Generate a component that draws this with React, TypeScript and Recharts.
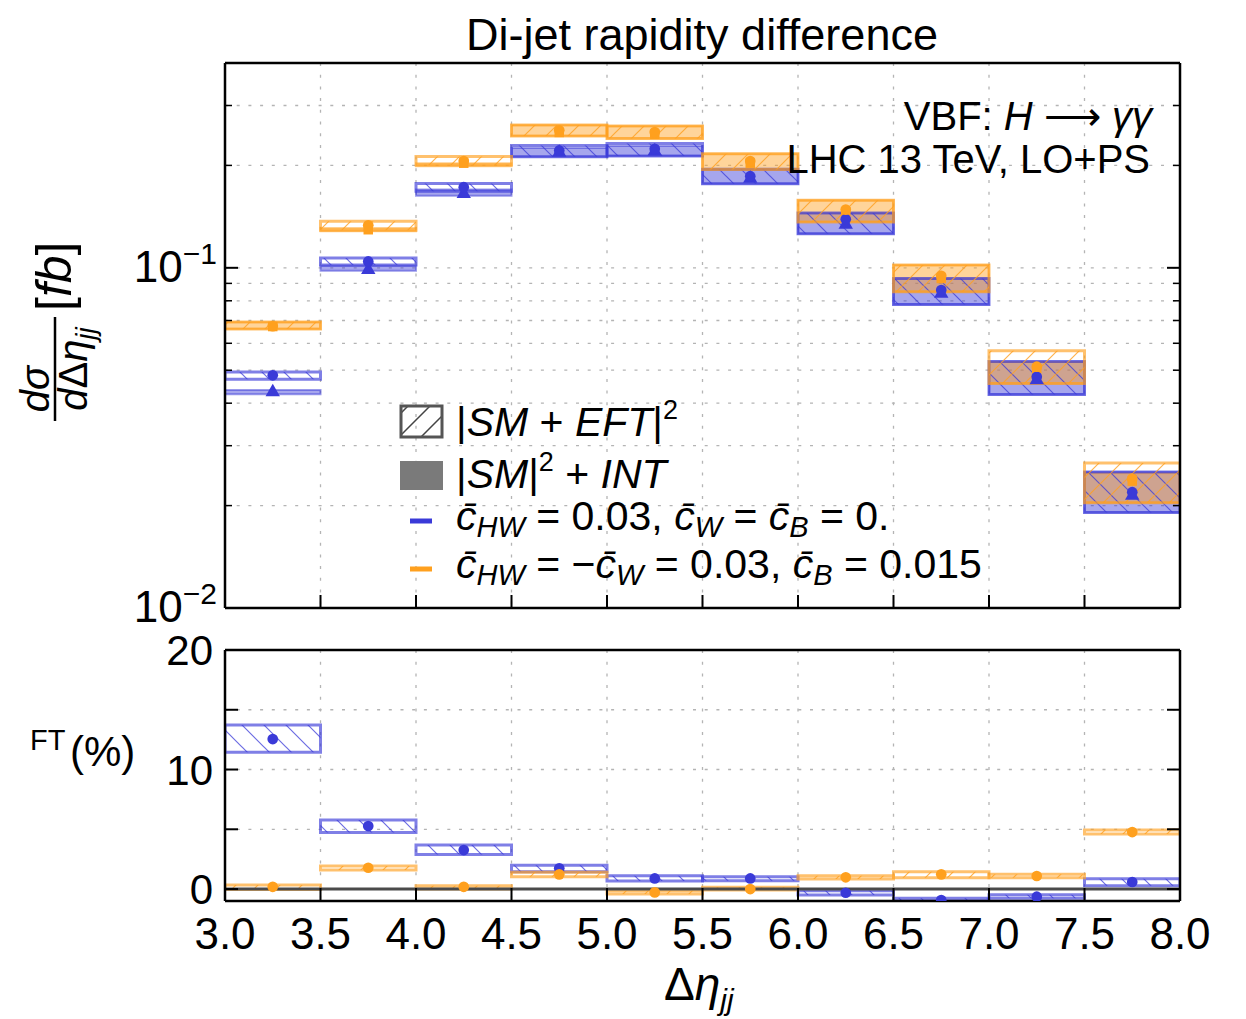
import React from 'react';
import {
  ComposedChart,
  XAxis,
  YAxis,
  ZAxis,
  CartesianGrid,
  ReferenceArea,
  ReferenceLine,
  Scatter,
} from 'recharts';

// ---------------- data ----------------
const binLo = [3.0, 3.5, 4.0, 4.5, 5.0, 5.5, 6.0, 6.5, 7.0, 7.5];
const binHi = [3.5, 4.0, 4.5, 5.0, 5.5, 6.0, 6.5, 7.0, 7.5, 8.0];
const binCenter = [3.25, 3.75, 4.25, 4.75, 5.25, 5.75, 6.25, 6.75, 7.25, 7.75];
const xTicks = [3.0, 3.5, 4.0, 4.5, 5.0, 5.5, 6.0, 6.5, 7.0, 7.5, 8.0];
const yLogMajor = [0.01, 0.1];
const yLogAll = [0.01, 0.02, 0.03, 0.04, 0.05, 0.06, 0.07, 0.08, 0.09, 0.1, 0.2, 0.3, 0.4];
const ftTicks = [0, 5, 10, 15, 20];
const ftLabels = [0, 10, 20];

// |SM + EFT|^2 (hatched) bands, blue: cHW = 0.03
const blueFullLo = [0.047, 0.102, 0.168, 0.212, 0.213, 0.1765, 0.126, 0.078, 0.0424, 0.0191];
const blueFullHi = [0.0494, 0.1068, 0.177, 0.229, 0.232, 0.195, 0.145, 0.093, 0.053, 0.0251];
const blueFullC = [0.0483, 0.1044, 0.1726, 0.2213, 0.2238, 0.1859, 0.139, 0.086, 0.0478, 0.0219];
// |SM|^2 + INT (solid) bands, blue
const blueIntLo = [0.0425, 0.098, 0.163, 0.212, 0.213, 0.1765, 0.126, 0.078, 0.0424, 0.0191];
const blueIntHi = [0.0437, 0.1014, 0.17, 0.225, 0.228, 0.195, 0.145, 0.093, 0.053, 0.0251];
const blueIntC = [0.0431, 0.0987, 0.165, 0.218, 0.22, 0.183, 0.134, 0.084, 0.0468, 0.0214];

// orange: cHW = -cW = 0.03, cB = 0.015
const orangeFullLo = [0.0661, 0.129, 0.2004, 0.244, 0.24, 0.1946, 0.1364, 0.085, 0.0457, 0.0204];
const orangeFullHi = [0.0693, 0.137, 0.2124, 0.263, 0.261, 0.2165, 0.158, 0.102, 0.057, 0.0267];
const orangeFullC = [0.0674, 0.1333, 0.2059, 0.2536, 0.2506, 0.2059, 0.1483, 0.0947, 0.0512, 0.024];
const orangeIntLo = [0.0661, 0.128, 0.199, 0.244, 0.24, 0.1946, 0.1364, 0.085, 0.0457, 0.0204];
const orangeIntHi = [0.0693, 0.131, 0.203, 0.263, 0.261, 0.2165, 0.158, 0.102, 0.0529, 0.0249];
const orangeIntC = [0.0672, 0.1294, 0.203, 0.25, 0.247, 0.203, 0.146, 0.093, 0.0505, 0.0236];

// FT (%) lower panel
const blueFtLo = [11.44, 4.74, 2.9, 1.45, 0.67, 0.69, -0.5, -0.98, -0.78, 0.28];
const blueFtHi = [13.72, 5.77, 3.68, 2.0, 1.11, 1.03, -0.14, -0.78, -0.48, 0.86];
const blueFtC = [12.55, 5.27, 3.26, 1.73, 0.89, 0.89, -0.31, -0.92, -0.64, 0.59];
const orangeFtLo = [-0.03, 1.59, 0.0, 1.03, -0.42, -0.08, 0.84, 0.95, 0.95, 4.6];
const orangeFtHi = [0.33, 1.92, 0.28, 1.4, -0.14, 0.14, 1.11, 1.45, 1.23, 4.94];
const orangeFtC = [0.19, 1.78, 0.19, 1.23, -0.28, 0.0, 0.98, 1.23, 1.09, 4.77];

// ---------------- styles ----------------
const BLUE = '#3a3ad8';
const ORANGE = '#ffa01e';
const FONT = '"Liberation Sans", Arial, Helvetica, sans-serif';
const GRID = '#b4b4b4';

const pts = (xs: number[], ys: number[]) => xs.map((x, i) => ({ x, y: ys[i] }));

type Side = 'left' | 'right' | 'top' | 'bottom';

const powLabel = (v: number, x: number, y: number) => (
  <text x={x - 8} y={y + 14} textAnchor="end" fontFamily={FONT} fontSize={44} fill="#000">
    <tspan>10</tspan>
    <tspan fontSize={30} dy={-18}>{'\u2212' + Math.abs(Math.round(Math.log10(v)))}</tspan>
  </text>
);

const numLabelY = (v: number, x: number, y: number) => (
  <text x={x - 12} y={y + 15} textAnchor="end" fontFamily={FONT} fontSize={42} fill="#000">
    {String(v)}
  </text>
);

const numLabelX = (v: number, x: number, y: number) => (
  <text x={x} y={y + 48} textAnchor="middle" fontFamily={FONT} fontSize={44} fill="#000">
    {Number(v).toFixed(1)}
  </text>
);

const makeTick =
  (side: Side, majors: number[] | null, labels: number[] | null, labelFn: any) =>
  (props: any) => {
    const { x, y, payload } = props;
    const v = payload.value;
    const isMajor = !majors || majors.some((m) => Math.abs(m - v) < 1e-9);
    const len = isMajor ? 13 : 7;
    const sw = isMajor ? 2 : 1.5;
    let line = null;
    if (side === 'left') line = <line x1={x} x2={x + len} y1={y} y2={y} stroke="#000" strokeWidth={sw} />;
    if (side === 'right') line = <line x1={x} x2={x - len} y1={y} y2={y} stroke="#000" strokeWidth={sw} />;
    if (side === 'top') line = <line x1={x} x2={x} y1={y} y2={y + len} stroke="#000" strokeWidth={sw} />;
    if (side === 'bottom') line = <line x1={x} x2={x} y1={y} y2={y - len} stroke="#000" strokeWidth={sw} />;
    const showLabel = labels && labelFn && labels.some((m) => Math.abs(m - v) < 1e-9);
    return (
      <g>
        {line}
        {showLabel ? labelFn(v, x, y) : null}
      </g>
    );
  };

const bandAreas = (
  prefix: string,
  lo: number[],
  hi: number[],
  color: string,
  hatchId: string | null
) =>
  binLo.map((x1, i) => (
    <ReferenceArea
      key={prefix + i}
      xAxisId="x"
      yAxisId="y"
      x1={x1}
      x2={binHi[i]}
      y1={lo[i]}
      y2={hi[i]}
      fill={hatchId ? `url(#${hatchId})` : color}
      fillOpacity={hatchId ? 1 : 0.45}
      stroke={color}
      strokeOpacity={hatchId ? 0.65 : 0.5}
      strokeWidth={hatchId ? 3 : 2}
      ifOverflow="hidden"
    />
  ));

const AXLINE = { stroke: '#000', strokeWidth: 2.5 };

const frameAxes = (
  yDomain: [number, number],
  logScale: boolean,
  yAll: number[],
  yMajor: number[],
  yLabels: number[],
  yLabelFn: any,
  xLabels: boolean
) => {
  const yCommon: any = {
    type: 'number',
    domain: yDomain,
    allowDataOverflow: true,
    width: 1,
    interval: 0,
    ticks: yAll,
    tickSize: 0,
    tickMargin: 0,
    tickLine: false,
    axisLine: AXLINE,
  };
  if (logScale) yCommon.scale = 'log';
  const xCommon: any = {
    type: 'number',
    domain: [3, 8],
    allowDataOverflow: true,
    height: 1,
    ticks: xTicks,
    interval: 0,
    tickSize: 0,
    tickMargin: 0,
    tickLine: false,
    axisLine: AXLINE,
  };
  return [
    <XAxis key="xb" xAxisId="x" dataKey="x" orientation="bottom" tick={makeTick('bottom', null, xLabels ? xTicks : null, numLabelX)} {...xCommon} />,
    <XAxis key="xt" xAxisId="xt" orientation="top" tick={makeTick('top', null, null, null)} {...xCommon} />,
    <YAxis key="yl" yAxisId="y" dataKey="y" orientation="left" tick={makeTick('left', yMajor, yLabels, yLabelFn)} {...yCommon} />,
    <YAxis key="yr" yAxisId="yr" orientation="right" tick={makeTick('right', yMajor, null, null)} {...yCommon} />,
    <ZAxis key="z" type="number" range={[90, 90]} />,
  ];
};

const Patterns = () => (
  <svg width={0} height={0} style={{ position: 'absolute' }}>
    <defs>
      <pattern id="hatchBlue" patternUnits="userSpaceOnUse" width={22} height={22}>
        <path d="M-1,-1 L23,23 M21,-1 L23,1 M-1,21 L1,23" stroke={BLUE} strokeOpacity={0.75} strokeWidth={1.2} />
      </pattern>
      <pattern id="hatchOrange" patternUnits="userSpaceOnUse" width={22} height={22}>
        <path d="M-1,23 L23,-1 M-1,1 L1,-1 M21,23 L23,21" stroke={ORANGE} strokeOpacity={0.8} strokeWidth={1.2} />
      </pattern>
      <pattern id="hatchGray" patternUnits="userSpaceOnUse" width={22} height={22}>
        <path d="M-1,23 L23,-1 M-1,1 L1,-1 M21,23 L23,21" stroke="#444" strokeWidth={1.5} />
      </pattern>
    </defs>
  </svg>
);

const TopChart = () => (
  <ComposedChart width={1246} height={640} margin={{ top: 62, left: 224, right: 65, bottom: 31 }}>
    <CartesianGrid
      xAxisId="x"
      yAxisId="y"
      horizontalValues={yLogAll}
      verticalValues={xTicks}
      stroke={GRID}
      strokeDasharray="3 8.7"
      strokeWidth={1.3}
    />
    {frameAxes([0.01, 0.4], true, yLogAll, yLogMajor, yLogMajor, powLabel, false)}
    {bandAreas('bi', blueIntLo, blueIntHi, BLUE, null)}
    {bandAreas('oi', orangeIntLo, orangeIntHi, ORANGE, null)}
    {bandAreas('bf', blueFullLo, blueFullHi, BLUE, 'hatchBlue')}
    {bandAreas('of', orangeFullLo, orangeFullHi, ORANGE, 'hatchOrange')}
    <Scatter xAxisId="x" yAxisId="y" data={pts(binCenter, blueIntC)} dataKey="y" shape="triangle" fill={BLUE} isAnimationActive={false} />
    <Scatter xAxisId="x" yAxisId="y" data={pts(binCenter, orangeIntC)} dataKey="y" shape="square" fill={ORANGE} isAnimationActive={false} />
    <Scatter xAxisId="x" yAxisId="y" data={pts(binCenter, blueFullC)} dataKey="y" shape="circle" fill={BLUE} isAnimationActive={false} />
    <Scatter xAxisId="x" yAxisId="y" data={pts(binCenter, orangeFullC)} dataKey="y" shape="circle" fill={ORANGE} isAnimationActive={false} />
  </ComposedChart>
);

const BottomChart = () => (
  <ComposedChart width={1246} height={404} margin={{ top: 34, left: 224, right: 65, bottom: 117 }}>
    <CartesianGrid
      xAxisId="x"
      yAxisId="y"
      horizontalValues={ftTicks}
      verticalValues={xTicks}
      stroke={GRID}
      strokeDasharray="3 8.7"
      strokeWidth={1.3}
    />
    {frameAxes([-1, 20], false, ftTicks, ftTicks, ftLabels, numLabelY, true)}
    <ReferenceLine xAxisId="x" yAxisId="y" y={0} stroke="#4a4a4a" strokeWidth={3} />
    {bandAreas('bft', blueFtLo, blueFtHi, BLUE, 'hatchBlue')}
    {bandAreas('oft', orangeFtLo, orangeFtHi, ORANGE, 'hatchOrange')}
    <Scatter xAxisId="x" yAxisId="y" data={pts(binCenter, blueFtC)} dataKey="y" shape="circle" fill={BLUE} isAnimationActive={false} />
    <Scatter xAxisId="x" yAxisId="y" data={pts(binCenter, orangeFtC)} dataKey="y" shape="circle" fill={ORANGE} isAnimationActive={false} />
  </ComposedChart>
);

const cbar = (s: string) => s + '\u0304';

const Texts = () => (
  <svg
    width={1246}
    height={1019}
    style={{ position: 'absolute', left: 0, top: 0, pointerEvents: 'none' }}
    fontFamily={FONT}
  >
    <text x={702} y={50} fontSize={45} textAnchor="middle">Di-jet rapidity difference</text>
    <text x={1152} y={130} fontSize={40} textAnchor="end">
      VBF: <tspan fontStyle="italic">H</tspan> {'\u27f6'} <tspan fontStyle="italic">{'\u03b3\u03b3'}</tspan>
    </text>
    <text x={1150} y={173} fontSize={40} textAnchor="end">LHC 13 TeV, LO+PS</text>

    {/* y label top */}
    <g transform="translate(55,369) rotate(-90)">
      <line x1={-52} x2={52} y1={0} y2={0} stroke="#000" strokeWidth={2.5} />
      <text x={-20} y={-6} fontSize={40} textAnchor="middle">
        <tspan fontStyle="italic">d</tspan>
        <tspan fontStyle="italic">{'\u03c3'}</tspan>
      </text>
      <text x={0} y={32} fontSize={40} textAnchor="middle">
        <tspan fontStyle="italic">d</tspan>
        <tspan>{'\u0394'}</tspan>
        <tspan fontStyle="italic">{'\u03b7'}</tspan>
        <tspan fontStyle="italic" fontSize={28} dy={8}>jj</tspan>
      </text>
      <text x={58} y={16} fontSize={50}>
        [<tspan fontStyle="italic">fb</tspan>]
      </text>
    </g>

    {/* y label bottom */}
    <text x={30} y={750} fontSize={29}>FT</text>
    <text x={70} y={766} fontSize={42}>(%)</text>

    {/* x label */}
    <text x={664} y={1000} fontSize={46}>
      <tspan>{'\u0394'}</tspan>
      <tspan fontStyle="italic">{'\u03b7'}</tspan>
      <tspan fontStyle="italic" fontSize={30} dy={10}>jj</tspan>
    </text>

    {/* legend */}
    <rect x={401} y={406} width={41} height={31} fill="url(#hatchGray)" stroke="#555" strokeWidth={3} />
    <text x={456} y={436} fontSize={41}>
      |<tspan fontStyle="italic">SM</tspan> + <tspan fontStyle="italic">EFT</tspan>|
      <tspan fontSize={27} dy={-17}>2</tspan>
    </text>
    <rect x={400} y={461} width={43} height={29} fill="#7a7a7a" />
    <text x={456} y={488} fontSize={41}>
      |<tspan fontStyle="italic">SM</tspan>|<tspan fontSize={27} dy={-17}>2</tspan>
      <tspan dy={17}> + </tspan>
      <tspan fontStyle="italic">INT</tspan>
    </text>
    <line x1={410} x2={432} y1={521} y2={521} stroke={BLUE} strokeWidth={5} />
    <text x={456} y={530} fontSize={41}>
      <tspan fontStyle="italic">{cbar('c')}</tspan>
      <tspan fontStyle="italic" fontSize={29} dy={7}>HW</tspan>
      <tspan dy={-7}> = 0.03, </tspan>
      <tspan fontStyle="italic">{cbar('c')}</tspan>
      <tspan fontStyle="italic" fontSize={29} dy={7}>W</tspan>
      <tspan dy={-7}> = </tspan>
      <tspan fontStyle="italic">{cbar('c')}</tspan>
      <tspan fontStyle="italic" fontSize={29} dy={7}>B</tspan>
      <tspan dy={-7}> = 0.</tspan>
    </text>
    <line x1={410} x2={432} y1={569} y2={569} stroke={ORANGE} strokeWidth={5} />
    <text x={456} y={578} fontSize={41}>
      <tspan fontStyle="italic">{cbar('c')}</tspan>
      <tspan fontStyle="italic" fontSize={29} dy={7}>HW</tspan>
      <tspan dy={-7}> = {'\u2212'}</tspan>
      <tspan fontStyle="italic">{cbar('c')}</tspan>
      <tspan fontStyle="italic" fontSize={29} dy={7}>W</tspan>
      <tspan dy={-7}> = 0.03, </tspan>
      <tspan fontStyle="italic">{cbar('c')}</tspan>
      <tspan fontStyle="italic" fontSize={29} dy={7}>B</tspan>
      <tspan dy={-7}> = 0.015</tspan>
    </text>
  </svg>
);

export default function App() {
  return (
    <div style={{ position: 'absolute', left: 0, top: 0, width: 1246, height: 1019, background: '#fff', fontFamily: FONT }}>
      <Patterns />
      <div style={{ position: 'absolute', left: 0, top: 0 }}>
        <TopChart />
      </div>
      <div style={{ position: 'absolute', left: 0, top: 615 }}>
        <BottomChart />
      </div>
      <Texts />
    </div>
  );
}
